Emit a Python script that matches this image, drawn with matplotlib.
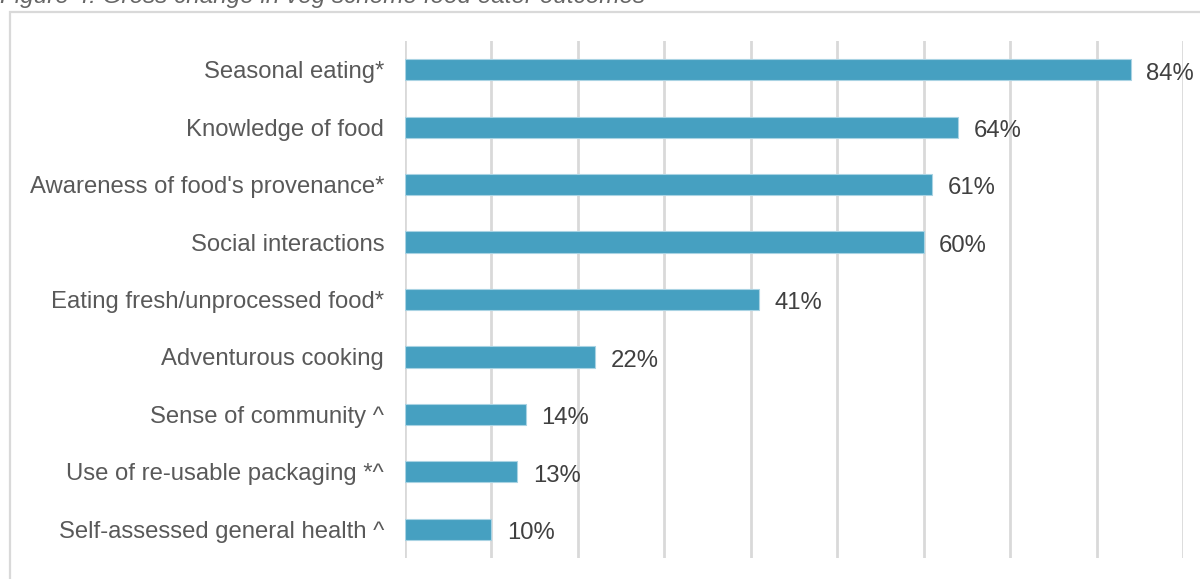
import numpy as np
import matplotlib.pyplot as plt
from matplotlib.patches import Rectangle

plt.rcParams['font.family'] = ['Liberation Sans', 'DejaVu Sans']

# Resultados por categoría (de arriba hacia abajo)
categorias = [
    "Seasonal eating*",
    "Knowledge of food",
    "Awareness of food's provenance*",
    "Social interactions",
    "Eating fresh/unprocessed food*",
    "Adventurous cooking",
    "Sense of community ^",
    "Use of re-usable packaging *^",
    "Self-assessed general health ^",
]
valores = [84, 64, 61, 60, 41, 22, 14, 13, 10]
titulo = "Figure 4: Gross change in veg scheme food eater outcomes"

color_barra = '#46A0C1'
color_texto = '#595959'
tam = 17.2

fig = plt.figure(figsize=(12, 5.79), dpi=100)
ax = fig.add_axes([405 / 1200, 1 - 558 / 579, (1183 - 405) / 1200, (558 - 41) / 579])

y = np.arange(len(categorias))
ax.barh(y, valores, height=0.37, color=color_barra, edgecolor='#A9D3E3', linewidth=0.8, zorder=3)

# Etiquetas de valor al final de cada barra
for yi, v in zip(y, valores):
    ax.annotate(f"{v}%", xy=(v, yi), xytext=(11, -1), textcoords='offset points',
                va='center_baseline', ha='left', fontsize=tam, color='#404040')

ax.set_xlim(0, 90)
ax.set_ylim(len(categorias) - 0.5, -0.5)
ax.set_xticks(np.arange(0, 91, 10))
ax.set_xticklabels([])
ax.set_yticks(y)
ax.set_yticklabels(categorias, fontsize=tam, color=color_texto, va='center_baseline')
ax.tick_params(axis='both', length=0)
ax.tick_params(axis='y', pad=15)
ax.grid(axis='x', color='#D9D9D9', linewidth=2, zorder=0)
for s in ax.spines.values():
    s.set_visible(False)

# Marco del gráfico (se sale por la derecha y abajo)
marco = Rectangle((10 / 1200, -0.05), 1.1, 1.05 - 12 / 579, transform=fig.transFigure,
                  fill=False, edgecolor='#D9D9D9', linewidth=1.6, clip_on=False)
fig.patches.append(marco)

# Título recortado en la parte superior
fig.text(0.0, 1 - 3 / 579, titulo, fontsize=17.5, style='italic', color='#666666',
         ha='left', va='baseline')

fig.savefig('out.png', dpi=100)
